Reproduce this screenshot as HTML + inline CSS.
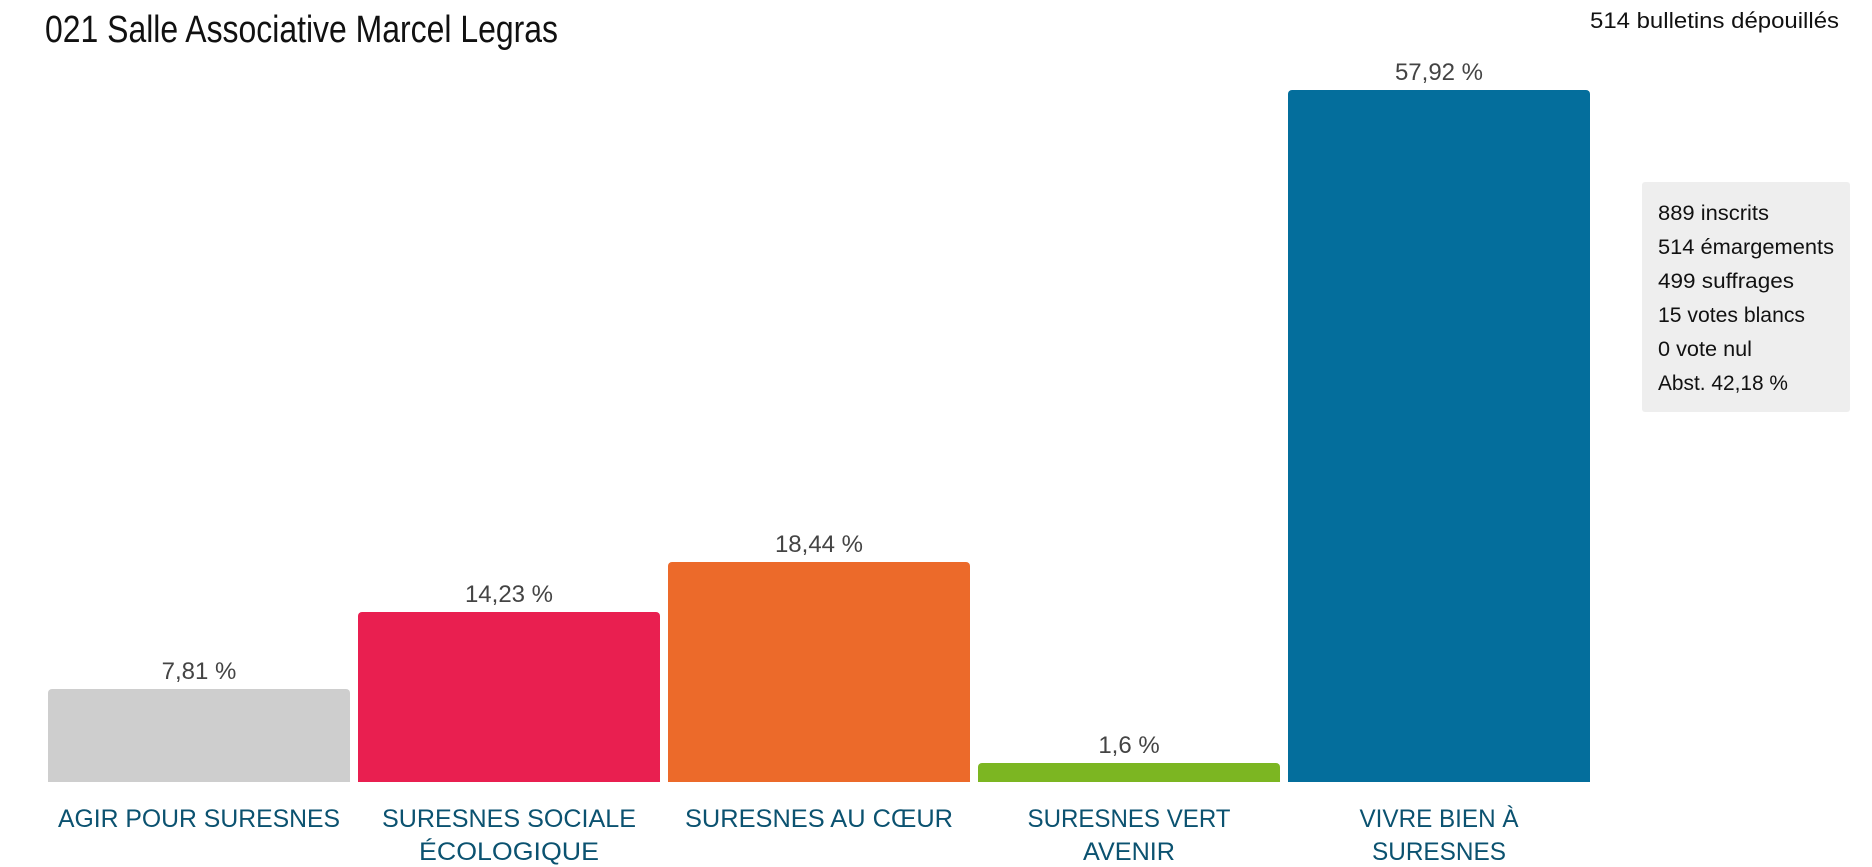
<!DOCTYPE html>
<html><head><meta charset="utf-8"><style>
html,body{margin:0;padding:0;background:#fff;}
svg{display:block;}
text{font-family:"Liberation Sans",sans-serif;}
</style></head><body>
<svg width="1872" height="867" viewBox="0 0 1872 867" xmlns="http://www.w3.org/2000/svg">
<text x="45" y="42" font-size="38" fill="#111" textLength="513" lengthAdjust="spacingAndGlyphs">021 Salle Associative Marcel Legras</text>
<text x="1590" y="28" font-size="22" fill="#111" textLength="249" lengthAdjust="spacingAndGlyphs">514 bulletins dépouillés</text>

<rect x="1642" y="182" width="208" height="230" rx="3" fill="#eeeeee"/>
<g font-size="21" fill="#111">
<text x="1658" y="220" textLength="111" lengthAdjust="spacingAndGlyphs">889 inscrits</text>
<text x="1658" y="254" textLength="176" lengthAdjust="spacingAndGlyphs">514 émargements</text>
<text x="1658" y="288" textLength="136" lengthAdjust="spacingAndGlyphs">499 suffrages</text>
<text x="1658" y="322" textLength="147" lengthAdjust="spacingAndGlyphs">15 votes blancs</text>
<text x="1658" y="356" textLength="94" lengthAdjust="spacingAndGlyphs">0 vote nul</text>
<text x="1658" y="390" textLength="130" lengthAdjust="spacingAndGlyphs">Abst. 42,18 %</text>
</g>

<path d="M48 782 V693 a4 4 0 0 1 4 -4 H346 a4 4 0 0 1 4 4 V782 Z" fill="#cecece"/>
<path d="M358 782 V616 a4 4 0 0 1 4 -4 H656 a4 4 0 0 1 4 4 V782 Z" fill="#e91f50"/>
<path d="M668 782 V566 a4 4 0 0 1 4 -4 H966 a4 4 0 0 1 4 4 V782 Z" fill="#ec6a2a"/>
<path d="M978 782 V767 a4 4 0 0 1 4 -4 H1276 a4 4 0 0 1 4 4 V782 Z" fill="#7cb622"/>
<path d="M1288 782 V94 a4 4 0 0 1 4 -4 H1586 a4 4 0 0 1 4 4 V782 Z" fill="#046e9c"/>

<g font-size="24" fill="#444" text-anchor="middle">
<text x="199" y="679">7,81 %</text>
<text x="509" y="602">14,23 %</text>
<text x="819" y="552">18,44 %</text>
<text x="1129" y="753">1,6 %</text>
<text x="1439" y="80">57,92 %</text>
</g>

<g font-size="25" fill="#0b5270" text-anchor="middle">
<text x="199" y="827" textLength="282" lengthAdjust="spacingAndGlyphs">AGIR POUR SURESNES</text>
<text x="509" y="827" textLength="254" lengthAdjust="spacingAndGlyphs">SURESNES SOCIALE</text>
<text x="509" y="860" textLength="180" lengthAdjust="spacingAndGlyphs">ÉCOLOGIQUE</text>
<text x="819" y="827" textLength="268" lengthAdjust="spacingAndGlyphs">SURESNES AU CŒUR</text>
<text x="1129" y="827" textLength="203" lengthAdjust="spacingAndGlyphs">SURESNES VERT</text>
<text x="1129" y="860" textLength="92" lengthAdjust="spacingAndGlyphs">AVENIR</text>
<text x="1439" y="827" textLength="159" lengthAdjust="spacingAndGlyphs">VIVRE BIEN À</text>
<text x="1439" y="860" textLength="134" lengthAdjust="spacingAndGlyphs">SURESNES</text>
</g>
</svg>
</body></html>
